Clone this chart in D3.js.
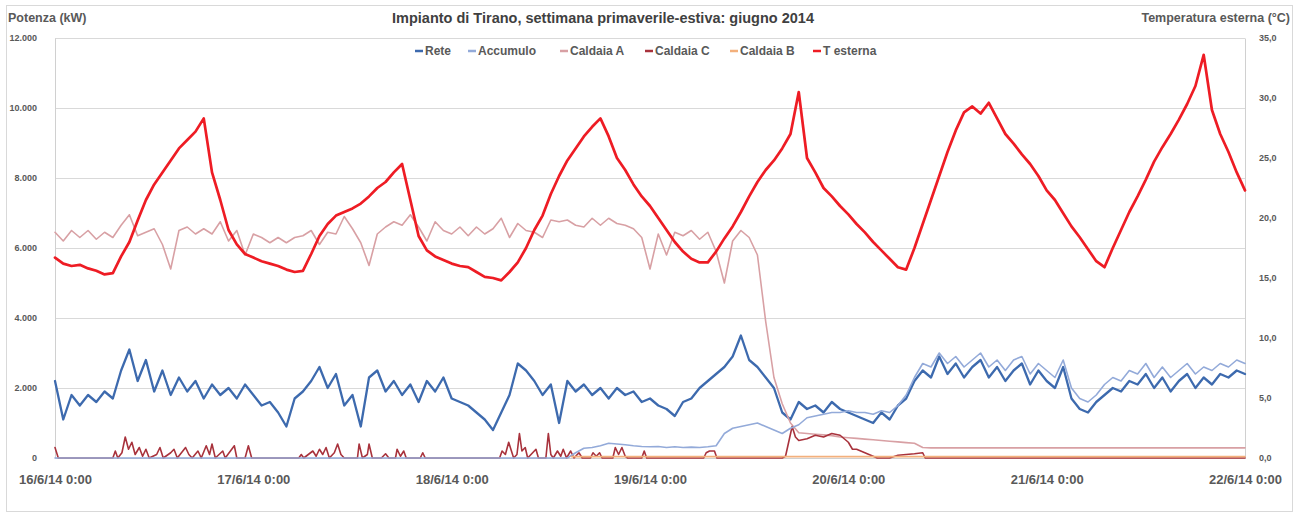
<!DOCTYPE html>
<html><head><meta charset="utf-8">
<script src="https://cdn.jsdelivr.net/npm/d3@7"></script>
<style>
body{margin:0;background:#fff;}
text{font-family:"Liberation Sans",Arial,sans-serif;}
</style>
</head><body>
<svg id="chart" width="1301" height="516"></svg>
<script>
// ---------- DATA ----------
const seriesNames = ["Rete","Accumulo","Caldaia A","Caldaia C","Caldaia B","T esterna"];
const startTime = new Date(2014,5,16,0,0);
const endTime = new Date(2014,5,22,0,0);
const leftTicks = [0,2000,4000,6000,8000,10000,12000];
const rightTicks = [0,5,10,15,20,25,30,35];

// hourly values, 16/6 00:00 -> 22/6 00:00
const tEsterna = [16.7,16.2,16.0,16.1,15.8,15.6,15.3,15.4,16.8,18.0,19.8,21.5,22.8,23.8,24.8,25.8,26.5,27.2,28.3,23.8,21.5,19.0,17.8,17.0,
16.7,16.4,16.2,16.0,15.7,15.5,15.6,17.0,18.5,19.5,20.2,20.5,20.8,21.2,21.8,22.5,23.0,23.8,24.5,21.5,18.5,17.3,16.8,16.5,
16.2,16.0,15.9,15.5,15.1,15.0,14.8,15.5,16.3,17.5,19.0,20.2,22.0,23.5,24.8,25.8,26.8,27.6,28.3,26.8,25.0,24.0,22.8,21.8,
21.0,20.0,19.0,18.0,17.2,16.6,16.3,16.3,17.2,18.3,19.3,20.5,21.8,23.0,24.0,24.8,25.8,27.0,30.5,25.0,23.8,22.5,21.8,21.0,
20.3,19.5,18.8,18.0,17.3,16.6,15.9,15.7,17.5,19.5,21.5,23.5,25.5,27.3,28.8,29.3,28.7,29.6,28.3,27.0,26.2,25.3,24.5,23.5,
22.3,21.5,20.4,19.3,18.4,17.4,16.4,15.9,17.5,19.0,20.5,21.8,23.2,24.7,25.9,27.0,28.2,29.5,31.0,33.6,29.0,27.0,25.5,23.8,
22.3];

const rete = [2200,1100,1800,1500,1800,1600,1900,1700,2500,3100,2200,2800,1900,2500,1800,2300,1900,2200,1700,2100,1800,2000,1700,2100,
1800,1500,1600,1300,900,1700,1900,2200,2600,2000,2400,1500,1800,900,2300,2500,1900,2200,1800,2100,1600,2200,1900,2300,
1700,1600,1500,1300,1100,800,1300,1800,2700,2500,2200,1800,2100,1000,2200,1900,2100,1800,2000,1700,2000,1800,1900,1600,
1700,1500,1400,1200,1600,1700,2000,2200,2400,2600,2900,3500,2800,2600,2300,2000,1300,1100,1600,1400,1500,1300,1600,1400,
1300,1200,1100,1000,1300,1100,1500,1700,2200,2500,2300,2900,2400,2700,2300,2600,2800,2300,2600,2200,2500,2700,2100,2500,
2200,2000,2600,1700,1400,1300,1600,1800,2000,1900,2200,2100,2400,2000,2300,1900,2200,2400,2000,2300,2100,2400,2300,2500,
2400];

const accumulo = [0,0,0,0,0,0,0,0,0,0,0,0,0,0,0,0,0,0,0,0,0,0,0,0,
0,0,0,0,0,0,0,0,0,0,0,0,0,0,0,0,0,0,0,0,0,0,0,0,
0,0,0,0,0,0,0,0,0,0,0,0,0,0,0,150,280,300,350,420,400,380,350,330,
320,330,300,320,300,310,300,320,350,700,850,900,950,1000,900,800,700,850,950,1150,1200,1250,1300,1300,
1350,1300,1300,1250,1350,1300,1500,1800,2300,2700,2600,3000,2700,2900,2600,2800,3000,2600,2800,2500,2800,2900,2400,2700,
2500,2300,2800,2000,1700,1600,1800,2100,2300,2200,2500,2400,2700,2300,2600,2300,2500,2700,2400,2600,2500,2700,2600,2800,
2700];

const caldaiaA = [6450,6200,6500,6300,6500,6250,6450,6300,6650,6950,6350,6450,6550,6100,5400,6500,6600,6400,6550,6400,6750,6200,6500,5800,
6400,6300,6150,6300,6150,6300,6350,6500,6100,6450,6400,6900,6550,6150,5500,6400,6600,6750,6650,6950,6600,6200,6750,6500,
6400,6600,6350,6600,6400,6550,6850,6300,6700,6500,6450,6300,6800,6750,6800,6650,6600,6850,6650,6850,6700,6650,6550,6300,
5400,6400,5800,6450,6350,6500,6250,6450,5900,5000,6200,6500,6300,5800,3900,2300,1550,1000,720,700,680,660,640,600,
580,560,540,520,500,480,460,440,420,300,290,290,290,290,290,290,290,290,290,290,290,290,290,290,
290,290,290,290,290,290,290,290,290,290,290,290,290,290,290,290,290,290,290,290,290,290,290,290,
290];

// sparse series (hour offset from start, kW)
const caldaiaCHours = [0,0.4,7.0,7.3,7.6,8.1,8.5,8.9,9.3,9.7,10.2,10.6,11.0,11.4,12.3,12.7,13.1,14.0,14.4,14.8,15.8,16.2,16.6,17.3,17.7,18.3,18.7,19.0,19.4,20.3,20.6,21.7,22.0,23.0,23.4,23.8,
29.5,29.8,30.1,31.2,31.6,32.0,32.4,32.8,33.2,33.8,34.2,34.6,35.0,36.6,36.8,37.2,37.8,38.0,38.4,39.5,40.0,40.4,41.2,41.4,41.8,42.2,42.5,44.2,44.5,44.8,
53.8,54.1,54.5,54.9,55.3,55.5,55.9,56.2,56.5,56.9,57.2,57.8,58.2,58.5,59.4,59.7,60.0,60.3,60.8,61.2,61.5,61.9,62.4,62.8,63.4,63.8,64.8,65.1,65.5,65.9,66.2,
67.5,67.8,68.2,68.6,69.0,69.3,71.0,71.3,71.6,78.5,78.8,79.2,79.8,80.1,
88.0,88.4,89.2,89.6,90.0,91.0,92.0,93.0,94.0,95.0,96.0,96.5,97.0,98.0,99.0,99.5,101.0,102.0,104.0,105.0,105.3,144];
const caldaiaCValues = [300,0,0,200,0,150,600,250,450,100,300,50,250,0,100,300,0,150,250,0,300,100,0,200,0,350,100,400,0,200,0,350,0,0,350,0,
0,100,0,200,50,250,100,300,0,150,400,100,0,0,400,0,100,400,0,0,120,0,0,250,50,200,0,0,150,0,
0,200,100,450,150,0,100,700,200,300,0,150,250,0,0,700,100,0,200,50,250,0,200,0,150,0,0,150,50,150,0,
0,300,100,300,50,0,0,200,0,0,150,200,200,0,
0,50,900,600,500,550,650,600,700,650,450,250,250,150,50,0,0,80,120,150,0,0];

const caldaiaBHours = [62.5,144];
const caldaiaBValues = [40,40];

// ---------- LAYOUT / STYLE ----------
const colors = {"Rete":"#3d6aae","Accumulo":"#93aad9","Caldaia A":"#d8a0a4","Caldaia C":"#a8323c","Caldaia B":"#f3b07c","T esterna":"#ee1c24"};
const widths = {"Rete":2.3,"Accumulo":1.6,"Caldaia A":1.6,"Caldaia C":1.6,"Caldaia B":1.6,"T esterna":2.7};
const legendX = [415,468,560,645,730,813];

const svg = d3.select("#chart");
const L = 55, R = 1245, T = 38, B = 458;

const x = d3.scaleTime().domain([startTime,endTime]).range([L,R]);
const yL = d3.scaleLinear().domain([0,12000]).range([B,T]);
const yR = d3.scaleLinear().domain([0,35]).range([B,T]);

const it = d3.formatLocale({decimal:",",thousands:".",grouping:[3],currency:["€",""]});
const fmtL = it.format(",.0f");
const fmtR = it.format(".1f");
const fmtDate = d => `${d.getDate()}/${d.getMonth()+1}/${String(d.getFullYear()).slice(2)} ${d.getHours()}:${String(d.getMinutes()).padStart(2,"0")}`;

// outer frame
svg.append("rect").attr("x",6.5).attr("y",5.5).attr("width",1286).attr("height",506)
  .attr("fill","#fff").attr("stroke","#d9d9d9");

// gridlines
svg.append("g").selectAll("line").data(leftTicks.filter(d=>d>0)).join("line")
  .attr("x1",L).attr("x2",R).attr("y1",d=>Math.round(yL(d))+0.5).attr("y2",d=>Math.round(yL(d))+0.5)
  .attr("stroke","#d9d9d9").attr("stroke-width",1);

// axes
const axL = svg.append("g").attr("transform",`translate(${L},0)`)
  .call(d3.axisLeft(yL).tickValues(leftTicks).tickFormat(fmtL).tickSize(0).tickPadding(18));
const axR = svg.append("g").attr("transform",`translate(${R},0)`)
  .call(d3.axisRight(yR).tickValues(rightTicks).tickFormat(fmtR).tickSize(0).tickPadding(14));
const axB = svg.append("g").attr("transform",`translate(0,${B})`)
  .call(d3.axisBottom(x).tickValues(d3.timeDay.range(startTime,d3.timeHour.offset(endTime,1))).tickFormat(fmtDate).tickSize(0).tickPadding(17));
[axL,axR].forEach(a=>{
  a.select(".domain").attr("stroke","#d0d0d0");
  a.selectAll("text").attr("font-size","9px").attr("font-weight","bold").attr("fill","#595959");
});
axB.select(".domain").attr("stroke","#d0d0d0");
axB.selectAll("text").attr("font-size","13px").attr("font-weight","bold").attr("fill","#595959");

// series
function hourly(arr){ return arr.map((v,i)=>({t:d3.timeHour.offset(startTime,i),v})); }
function sparse(hrs,vals){ return hrs.map((h,i)=>({t:d3.timeMinute.offset(startTime,Math.round(h*60)),v:vals[i]})); }

const lineL = d3.line().x(d=>x(d.t)).y(d=>yL(d.v)).curve(d3.curveLinear);
const lineR = d3.line().x(d=>x(d.t)).y(d=>yR(d.v)).curve(d3.curveLinear);

const draw = [
  ["Rete", hourly(rete), lineL],
  ["Caldaia A", hourly(caldaiaA), lineL],
  ["Caldaia C", sparse(caldaiaCHours,caldaiaCValues), lineL],
  ["Accumulo", hourly(accumulo), lineL],
  ["Caldaia B", sparse(caldaiaBHours,caldaiaBValues), lineL],
  ["T esterna", hourly(tEsterna), lineR]
];
const gLines = svg.append("g");
draw.forEach(([name,data,gen])=>{
  gLines.append("path").datum(data).attr("d",gen).attr("fill","none")
    .attr("stroke",colors[name]).attr("stroke-width",widths[name])
    .attr("stroke-linejoin","round").attr("stroke-linecap","round");
});

// titles
svg.append("text").attr("x",603).attr("y",23).attr("text-anchor","middle")
  .attr("font-size","14.5px").attr("font-weight","bold").attr("fill","#404040")
  .text("Impianto di Tirano, settimana primaverile-estiva: giugno 2014");
svg.append("text").attr("x",8).attr("y",22).attr("font-size","12.5px").attr("font-weight","bold").attr("fill","#595959")
  .text("Potenza (kW)");
svg.append("text").attr("x",1290).attr("y",22).attr("text-anchor","end").attr("font-size","12.5px").attr("font-weight","bold").attr("fill","#595959")
  .text("Temperatura esterna (°C)");

// legend
const lg = svg.append("g").selectAll("g").data(seriesNames).join("g")
  .attr("transform",(d,i)=>`translate(${legendX[i]},51)`);
lg.append("line").attr("x1",0).attr("x2",8).attr("y1",0).attr("y2",0)
  .attr("stroke",d=>colors[d]).attr("stroke-width",2.5);
lg.append("text").attr("x",10).attr("y",4).attr("font-size","12px").attr("font-weight","bold").attr("fill","#595959").text(d=>d);
</script>
</body></html>
